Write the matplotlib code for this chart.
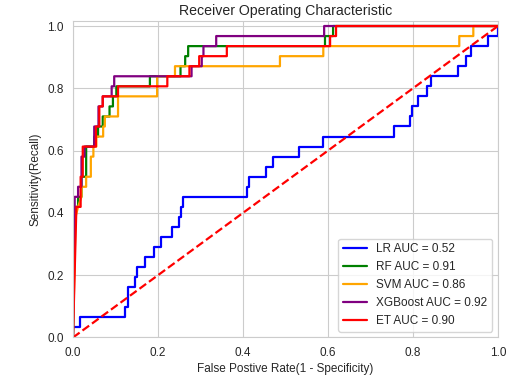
import matplotlib
matplotlib.use('Agg')
import matplotlib.pyplot as plt
import seaborn as sns
import numpy as np

# ROC corner points: fpr, tpr as count of 31 positives
N_POS = 31

lr_fpr = [0, 0, 0.017, 0.017, 0.123, 0.123, 0.129, 0.129, 0.145, 0.145, 0.151, 0.151,
          0.170, 0.170, 0.190, 0.190, 0.206, 0.206, 0.233, 0.233, 0.250, 0.250, 0.255,
          0.255, 0.260, 0.260, 0.410, 0.410, 0.414, 0.414, 0.454, 0.454, 0.471, 0.471,
          0.531, 0.531, 0.589, 0.589, 0.755, 0.755, 0.794, 0.794, 0.798, 0.798, 0.812,
          0.812, 0.833, 0.833, 0.843, 0.843, 0.907, 0.907, 0.925, 0.925, 0.936, 0.936,
          0.976, 0.976, 1.0, 1.0]
lr_tp = [0, 1, 1, 2, 2, 3, 3, 5, 5, 6, 6, 7, 7, 8, 8, 9, 9, 10, 10, 11, 11, 12, 12, 13,
         13, 14, 14, 15, 15, 16, 16, 17, 17, 18, 18, 19, 19, 20, 20, 21, 21, 22, 22, 23,
         23, 24, 24, 25, 25, 26, 26, 27, 27, 28, 28, 29, 29, 30, 30, 31]

rf_fpr = [0, 0.005, 0.012, 0.012, 0.020, 0.020, 0.031, 0.031, 0.050, 0.050, 0.059,
          0.059, 0.070, 0.070, 0.086, 0.086, 0.094, 0.094, 0.102, 0.102, 0.181, 0.181,
          0.253, 0.253, 0.264, 0.264, 0.271, 0.271, 0.593, 0.593, 0.612, 0.612, 1.0]
rf_tp = [0, 13, 13, 14, 14, 16, 16, 19, 19, 20, 20, 21, 21, 22, 22, 23, 23, 24, 24, 25,
         25, 26, 26, 27, 27, 28, 28, 29, 29, 30, 30, 31, 31]

svm_fpr = [0, 0.006, 0.012, 0.020, 0.020, 0.031, 0.031, 0.042, 0.042, 0.048, 0.048,
           0.055, 0.055, 0.071, 0.071, 0.075, 0.075, 0.106, 0.106, 0.198, 0.198, 0.240,
           0.240, 0.487, 0.487, 0.589, 0.589, 0.909, 0.909, 0.942, 0.942, 1.0]
svm_tp = [0, 12, 13, 14, 15, 15, 16, 16, 18, 18, 19, 19, 20, 20, 21, 21, 22, 22, 24, 24,
          26, 26, 27, 27, 28, 28, 29, 29, 30, 30, 31, 31]

xgb_fpr = [0, 0.004, 0.004, 0.012, 0.012, 0.020, 0.020, 0.027, 0.027, 0.050, 0.050,
           0.060, 0.060, 0.070, 0.070, 0.091, 0.091, 0.097, 0.097, 0.279, 0.279, 0.303,
           0.303, 0.307, 0.307, 0.337, 0.337, 0.591, 0.591, 1.0]
xgb_tp = [0, 13, 14, 14, 15, 15, 18, 18, 19, 19, 21, 21, 23, 23, 24, 24, 25, 25, 26, 26,
          27, 27, 28, 28, 29, 29, 30, 30, 31, 31]

et_fpr = [0, 0.008, 0.018, 0.018, 0.023, 0.023, 0.054, 0.054, 0.062, 0.062, 0.070,
          0.070, 0.106, 0.106, 0.222, 0.222, 0.274, 0.274, 0.297, 0.297, 0.362, 0.362,
          0.605, 0.605, 0.619, 0.619, 1.0]
et_tp = [0, 13, 13, 16, 16, 19, 19, 21, 21, 23, 23, 24, 24, 25, 25, 26, 26, 27, 27, 28,
         28, 29, 29, 30, 30, 31, 31]

labels = ['LR AUC = 0.52', 'RF AUC = 0.91', 'SVM AUC = 0.86',
          'XGBoost AUC = 0.92', 'ET AUC = 0.90']
colors = ['blue', 'green', 'orange', 'purple', 'red']

sns.set_style('whitegrid')
plt.rcParams['font.family'] = ['Liberation Sans', 'DejaVu Sans']

fig = plt.figure(figsize=(5.10, 3.79), dpi=100)
ax = fig.add_axes([0.1431, 0.1095, 0.8333, 0.835])

curves = [(lr_fpr, lr_tp), (rf_fpr, rf_tp), (svm_fpr, svm_tp),
          (xgb_fpr, xgb_tp), (et_fpr, et_tp)]
for (fx, tp), lab, col in zip(curves, labels, colors):
    ax.plot(fx, np.array(tp) / N_POS, color=col, lw=1.6, label=lab)

ax.plot([0, 1], [0, 1], 'r--', lw=1.6)

ax.set_xlim(0, 1)
ax.set_ylim(0, 1.016)
ax.set_xticks([0, 0.2, 0.4, 0.6, 0.8, 1.0])
ax.set_yticks([0, 0.2, 0.4, 0.6, 0.8, 1.0])
ax.tick_params(labelsize=8.5, colors='#262626', pad=3)
ax.set_title('Receiver Operating Characteristic', fontsize=10.2, color='#262626', pad=4)
ax.set_xlabel('False Postive Rate(1 - Specificity)', fontsize=8.5, color='#262626', labelpad=3)
ax.set_ylabel('Sensitivity(Recall)', fontsize=8.5, color='#262626', labelpad=4)
ax.legend(loc='lower right', fontsize=8.5, frameon=True, edgecolor='0.8')

fig.savefig('out.png', dpi=100)
